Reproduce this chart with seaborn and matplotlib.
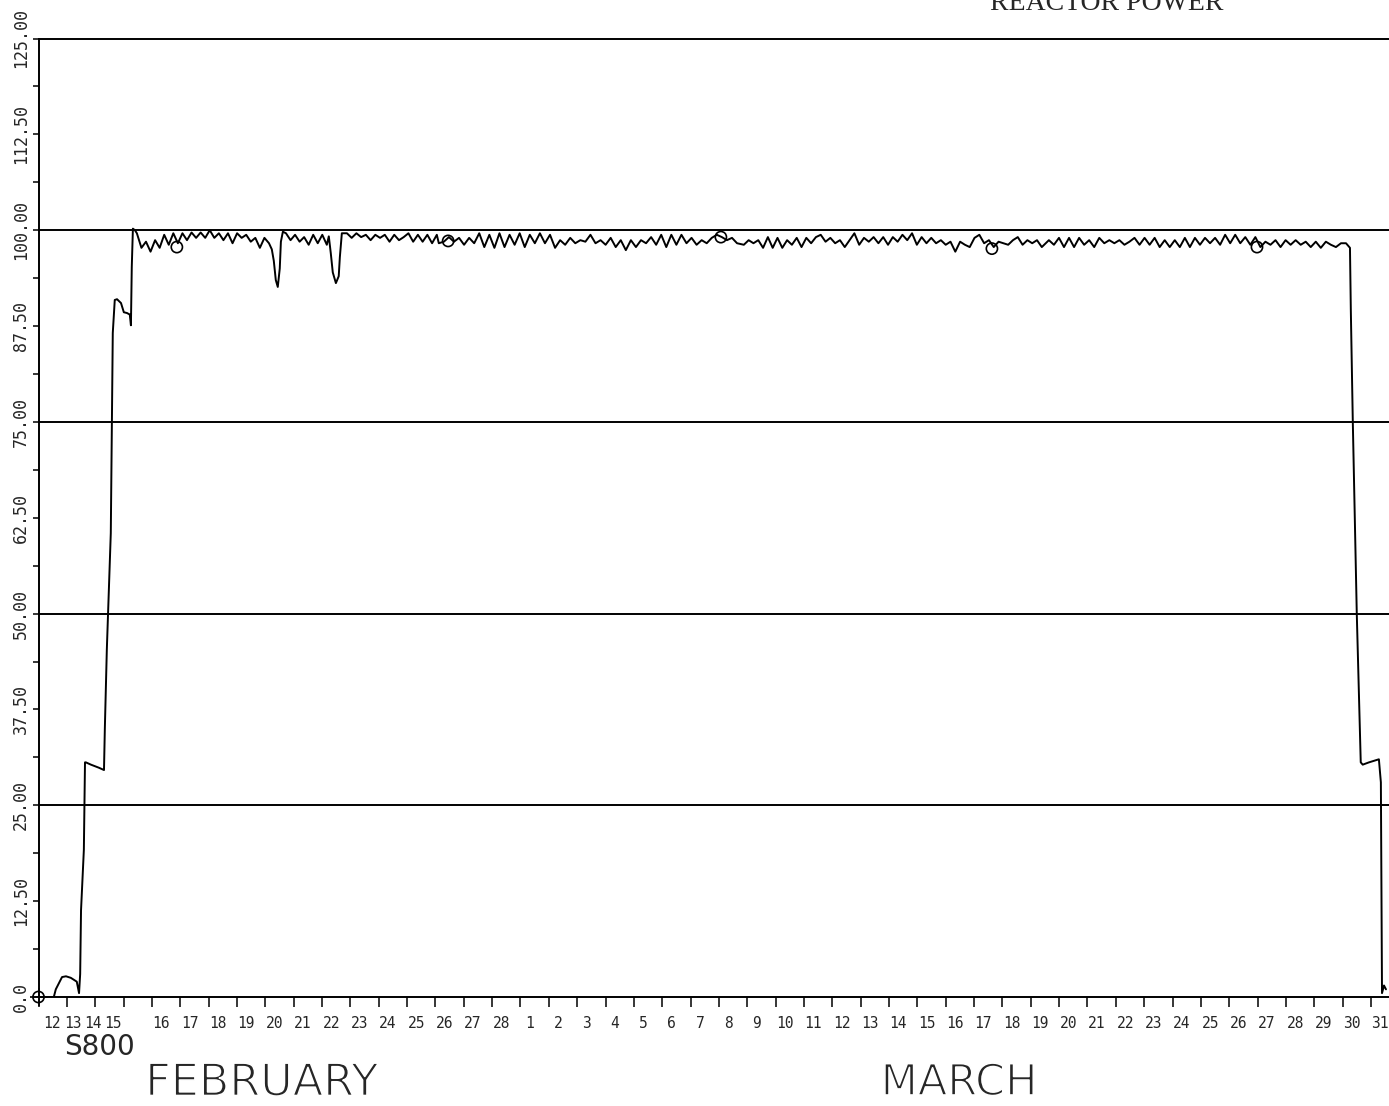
import numpy as np
import pandas as pd
import seaborn as sns
import matplotlib.pyplot as plt
import matplotlib.patheffects as pe

# time in days counted from 12 February 00:00, power in percent
startup_day = [0.00, 0.54, 0.61, 0.83, 0.97, 1.14, 1.35, 1.43, 1.47, 1.50,
               1.53, 1.60, 1.64, 1.67, 1.85, 2.13, 2.31, 2.34, 2.41, 2.45,
               2.55, 2.59, 2.62, 2.69, 2.77, 2.91, 3.01, 3.12, 3.22, 3.26,
               3.29, 3.33, 3.40]
startup_pct = [0, 0, 1.0, 2.6, 2.7, 2.5, 2.0, 0.5, 3.0, 11.3,
               13.6, 19.2, 30.6, 30.6, 30.3, 29.9, 29.6, 35.0, 45.3, 49.6,
               60.5, 74.9, 86.6, 90.9, 91.0, 90.5, 89.3, 89.2, 89.0, 87.6,
               95.2, 100.2, 100.0]

# steady operation, read every ~4 hours (start day, end day, values)
seg_a = (3.47, 8.13, [99.6, 97.7, 98.5, 97.2, 98.7, 97.7, 99.4, 98.1, 99.6, 98.3,
                      99.6, 98.7, 99.7, 99.0, 99.7, 99.0, 100.0, 99.0, 99.6, 98.7,
                      99.6, 98.3, 99.6, 99.0, 99.4, 98.5, 99.0, 97.7, 99.0, 98.3])
dip1_day = [8.23, 8.30, 8.37, 8.44, 8.51, 8.55, 8.62]
dip1_pct = [97.5, 96.0, 93.5, 92.6, 95.0, 98.5, 99.8]
seg_b = (8.73, 10.17, [99.6, 98.7, 99.4, 98.5, 99.1, 98.1, 99.4, 98.3, 99.4, 98.1])
dip2_day = [10.24, 10.31, 10.38, 10.49, 10.59, 10.63, 10.70]
dip2_pct = [99.2, 97.0, 94.5, 93.1, 94.0, 96.5, 99.6]
seg_c = (10.88, 14.05, [99.6, 99.0, 99.6, 99.1, 99.4, 98.7, 99.4, 99.0, 99.4, 98.5,
                        99.4, 98.7, 99.1, 99.6, 98.5, 99.4, 98.5, 99.4, 98.3, 99.4])
seg_d = (14.12, 24.64, [98.3, 98.5, 99.1, 98.5, 99.0, 98.1, 99.0, 98.3, 99.6, 97.8,
                        99.4, 97.7, 99.6, 97.8, 99.4, 98.1, 99.6, 97.8, 99.4, 98.3,
                        99.6, 98.3, 99.4, 97.7, 98.7, 98.1, 99.0, 98.3, 98.7, 98.5,
                        99.4, 98.3, 98.7, 98.1, 99.0, 97.8, 98.7, 97.4, 98.7, 97.8,
                        98.7, 98.3, 99.1, 98.1, 99.4, 97.8, 99.4, 98.1, 99.4, 98.3,
                        99.0, 98.1, 98.7, 98.3, 99.0, 99.4, 99.1, 98.7, 99.0, 98.3])
seg_e = (24.88, 35.39, [98.1, 98.7, 98.3, 98.7, 97.7, 99.1, 97.7, 99.0, 97.7, 98.7,
                        98.1, 99.0, 97.8, 99.0, 98.3, 99.1, 99.4, 98.5, 99.0, 98.3,
                        98.7, 97.8, 98.7, 99.6, 98.1, 99.0, 98.5, 99.1, 98.3, 99.1,
                        98.1, 99.1, 98.5, 99.4, 98.7, 99.6, 98.1, 99.1, 98.3, 99.0,
                        98.3, 98.7, 98.1, 98.5, 97.2, 98.5, 98.1, 97.8, 99.0, 99.4,
                        98.3, 98.7, 97.8, 98.5, 98.3, 98.1, 98.7, 99.1, 98.1, 98.7,
                        98.3, 98.7, 97.8])
seg_f = (35.64, 46.12, [98.7, 98.1, 99.0, 97.8, 99.0, 97.8, 99.0, 98.1, 98.7, 97.8,
                        99.0, 98.3, 98.7, 98.3, 98.7, 98.1, 98.5, 99.0, 98.1, 99.0,
                        98.1, 99.0, 97.8, 98.7, 97.8, 98.7, 97.8, 99.0, 97.8, 99.0,
                        98.1, 99.0, 98.3, 99.0, 98.1, 99.4, 98.3, 99.4, 98.3, 99.1,
                        98.1, 99.1, 97.8, 98.5, 98.1, 98.7, 97.8, 98.7, 98.1, 98.7,
                        98.1, 98.5, 97.8, 98.5, 97.7, 98.5, 98.1, 97.8, 98.3, 98.3])

shutdown_day = [46.26, 46.29, 46.36, 46.50, 46.64, 46.71, 46.93, 47.28, 47.35, 47.39, 47.46, 47.53]
shutdown_pct = [97.7, 89.6, 75.0, 50.0, 30.6, 30.3, 30.6, 31.0, 28.0, 0.5, 1.5, 1.0]

marker_day = [0.0, 4.88, 14.45, 24.07, 33.63, 42.98]
marker_pct = [0.0, 97.8, 98.6, 99.1, 97.6, 97.8]

day_labels = [str(d) for d in range(12, 29)] + [str(d) for d in range(1, 32)]
y_ticks = [0, 12.5, 25, 37.5, 50, 62.5, 75, 87.5, 100, 112.5, 125]
y_labels = ["0.0", "12.50", "25.00", "37.50", "50.00", "62.50",
            "75.00", "87.50", "100.00", "112.50", "125.00"]
grid_levels = [25, 50, 75, 100, 125]


def build_frame():
    days, pct = list(startup_day), list(startup_pct)
    for part in [seg_a, (dip1_day, dip1_pct), seg_b, (dip2_day, dip2_pct),
                 seg_c, seg_d, seg_e, seg_f, (shutdown_day, shutdown_pct)]:
        if len(part) == 3:
            start, end, vals = part
            days += list(np.linspace(start, end, len(vals)))
            pct += vals
        else:
            days += part[0]
            pct += part[1]
    return pd.DataFrame({"day": days, "power": pct})


def main():
    sns.set_style("white")
    plt.rcParams["font.family"] = ["DejaVu Sans Mono"]
    W, H = 1389, 1106
    fig = plt.figure(figsize=(W / 100, H / 100), dpi=100)
    x0, px_day = 38.5, 28.35
    ax = fig.add_axes([x0 / W, (H - 997) / H, px_day * 48 / W, (997 - 38.5) / H])
    ax.set_xlim(0, 48)
    ax.set_ylim(0, 125)

    df = build_frame()
    sns.lineplot(data=df, x="day", y="power", color="black", lw=1.4,
                 estimator=None, sort=False, ax=ax)
    sns.scatterplot(x=marker_day, y=marker_pct, marker="o", s=65,
                    facecolors="none", edgecolor="black", linewidth=1.2,
                    ax=ax, zorder=4, clip_on=False)
    ax.plot([0], [0], marker="+", ms=13, mew=1.2, color="black", clip_on=False)

    for lvl in grid_levels:
        ax.axhline(lvl, color="black", lw=1.4, clip_on=False)

    for side in ["top", "right"]:
        ax.spines[side].set_visible(False)
    for side in ["left", "bottom"]:
        ax.spines[side].set_color("black")
        ax.spines[side].set_linewidth(1.4)

    # y axis: ticks every 6.25, labels every 12.5, rotated
    ax.set_yticks(y_ticks)
    ax.set_yticklabels(y_labels, rotation=90, va="center", fontsize=12)
    ax.set_yticks(np.arange(6.25, 125, 12.5), minor=True)
    ax.tick_params(axis="y", which="both", direction="out", length=4.5, width=1.1,
                   color="black", pad=1.5, left=True)

    # x axis: a tick at the start of each day, label just right of it
    ax.set_xticks(range(48))
    ax.set_xticklabels([])
    label_pos = [i + 0.33 for i in range(48)]
    label_pos[0] += 0.15
    label_pos[1] -= 0.11
    label_pos[2] -= 0.41
    label_pos[3] -= 0.70
    ax.set_xticks(label_pos, minor=True)
    ax.set_xticklabels(day_labels, minor=True, fontsize=10.5)
    ax.tick_params(axis="x", which="major", direction="out", length=7, width=1.1,
                   color="black", bottom=True)
    ax.tick_params(axis="x", which="minor", length=0, pad=14, bottom=True)
    ax.set_xlabel("")
    ax.set_ylabel("")

    thin = [pe.Normal(), pe.Stroke(linewidth=1.2, foreground="white")]
    fig.text(100 / W, 1 - 1047 / H, "S800", family="DejaVu Sans", fontsize=20,
             ha="center", va="center")
    fig.text(262 / W, 1 - 1083 / H, "FEBRUARY", family="DejaVu Sans", fontsize=32,
             ha="center", va="center", path_effects=thin)
    fig.text(959 / W, 1 - 1083 / H, "MARCH", family="DejaVu Sans", fontsize=31,
             ha="center", va="center", path_effects=thin)
    fig.text(990 / W, 1 - 10 / H, "REACTOR POWER", family="Liberation Serif",
             fontsize=20, ha="left", va="baseline")

    fig.savefig("out.png", dpi=100)


if __name__ == "__main__":
    main()
